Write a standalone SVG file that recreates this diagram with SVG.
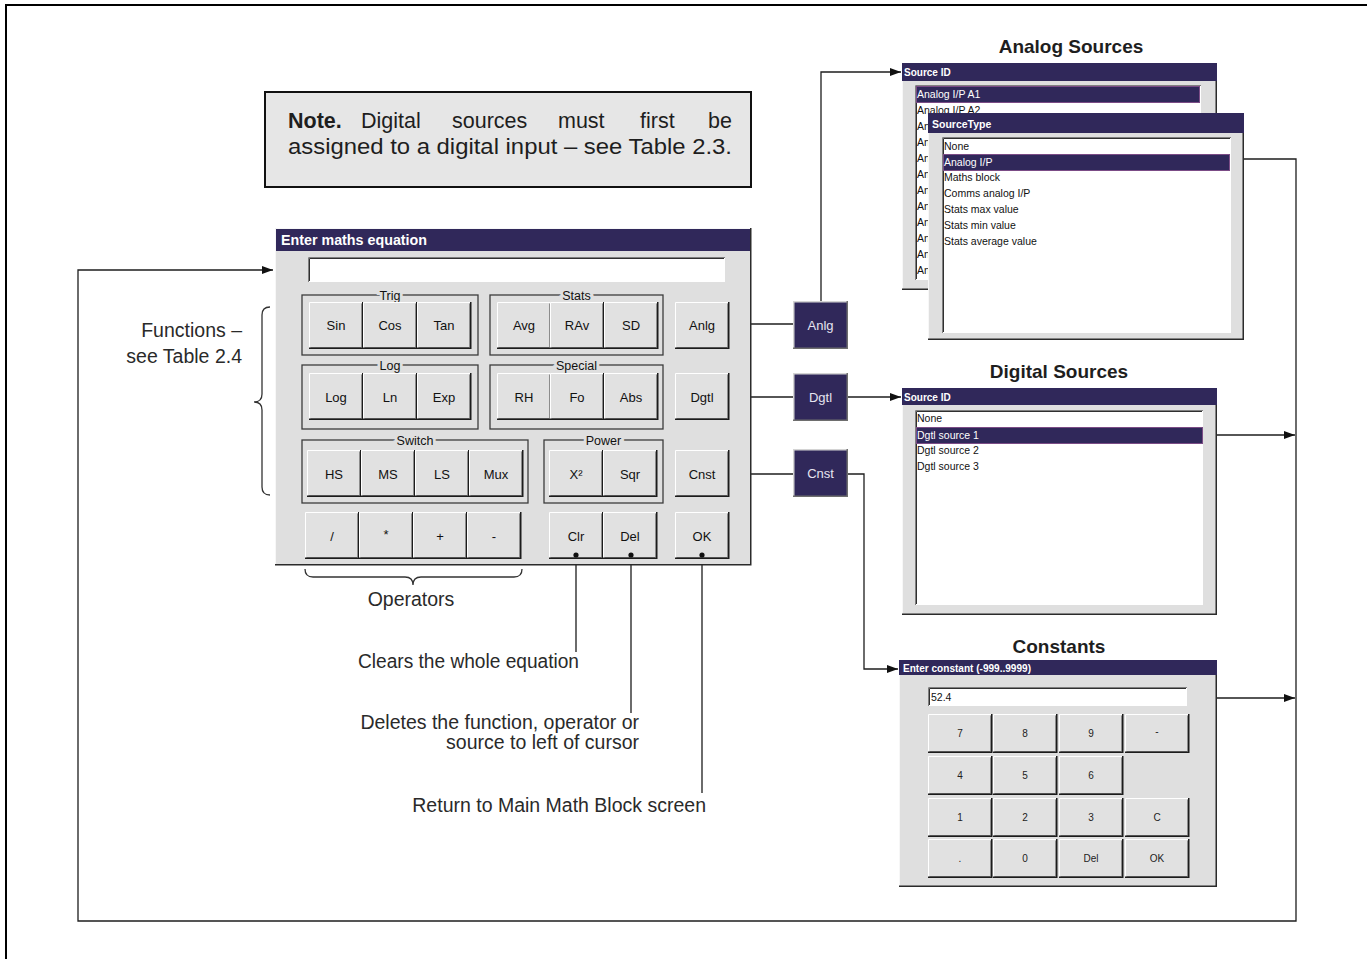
<svg xmlns="http://www.w3.org/2000/svg" xmlns:xlink="http://www.w3.org/1999/xlink" width="1367" height="959" viewBox="0 0 1367 959">
  <defs>
    <style>
      .frame{fill:none;stroke:#000;stroke-width:2}
      .dlg{fill:#dfdfdf}
      .dlgedge{fill:none;stroke:#2b2b2b;stroke-width:1.5}
      .dlghi{fill:none;stroke:#f7f7f7;stroke-width:1}
      .ttl{fill:#30285a}
      .ttxt{font-family:"Liberation Sans",Arial,sans-serif;font-weight:bold;fill:#fff}
      .btnface{fill:#e1e1e1}
      .hi{fill:none;stroke:#fff;stroke-width:1}
      .sh{fill:none;stroke:#1c1c1c;stroke-width:1.5}
      .sh2{fill:none;stroke:#8c8c8c;stroke-width:1}
      .lbl{font-family:"Liberation Sans",Arial,sans-serif;font-size:13px;fill:#111;text-anchor:middle}
      .key{font-family:"Liberation Sans",Arial,sans-serif;font-size:10px;fill:#222;text-anchor:middle}
      .grp{fill:none;stroke:#3c3c3c;stroke-width:1.3}
      .glbl{font-family:"Liberation Sans",Arial,sans-serif;font-size:12.5px;fill:#111;text-anchor:middle;stroke:#dfdfdf;stroke-width:6;paint-order:stroke}
      .field{fill:#fff}
      .sunk1{fill:none;stroke:#808080;stroke-width:1}
      .sunk2{fill:none;stroke:#303030;stroke-width:1}
      .item{font-family:"Liberation Sans",Arial,sans-serif;font-size:10.5px;fill:#111}
      .sel{fill:#30285a;stroke:#7b4c86;stroke-width:1}
      .seltxt{fill:#fff}
      .ann{font-family:"Liberation Sans",Arial,sans-serif;font-size:19.5px;fill:#2a2a2a}
      .head{font-family:"Liberation Sans",Arial,sans-serif;font-size:19px;font-weight:bold;fill:#1e1e1e;text-anchor:middle}
      .conn{fill:none;stroke:#1e1e1e;stroke-width:1.3}
      .brace{fill:none;stroke:#333;stroke-width:1.3}
      .dark{fill:#30285a}
      .darklbl{font-family:"Liberation Sans",Arial,sans-serif;font-size:13px;fill:#e6e4f0;text-anchor:middle}
      .note{font-family:"Liberation Sans",Arial,sans-serif;font-size:21.5px;fill:#1e1e1e}
    </style>
    <marker id="arr" viewBox="0 0 11 8" refX="11" refY="4" markerWidth="11" markerHeight="8" markerUnits="userSpaceOnUse" orient="auto">
      <path d="M0,0L11,4L0,8z" fill="#111"/>
    </marker>
    <!-- raised push button of the equation editor -->
    <g id="btn">
      <rect class="btnface" width="54" height="47"/>
      <path class="hi" d="M0.5,46V0.5H53"/>
      <path class="sh2" d="M1.5,45.5H52.5V1.5"/>
      <path class="sh" d="M0,46.25H53.75V0"/>
    </g>
    <!-- keypad key of the constant entry screen -->
    <g id="key">
      <rect class="btnface" width="64" height="39"/>
      <path class="hi" d="M0.5,38V0.5H63"/>
      <path class="sh2" d="M1.5,37.5H62.5V1.5"/>
      <path class="sh" d="M0,38.25H63.75V0"/>
    </g>
    <!-- source selector button (dark) -->
    <g id="dbtn">
      <rect class="dark" width="55" height="48"/>
      <path d="M0.75,47.5V0.75H54.5" stroke="#d4d4d4" stroke-width="1.5" fill="none"/>
      <path d="M0,47.25H54.25V0" stroke="#6e6e6e" stroke-width="1.5" fill="none"/>
    </g>
  </defs>

  <rect width="1367" height="959" fill="#fff"/>
  <rect class="frame" x="6" y="5" width="1400" height="1000"/>

  <!-- note box -->
  <g id="note">
    <rect x="265" y="92" width="486" height="95" fill="#e6e6e6" stroke="#111" stroke-width="2"/>
    <text class="note" y="128"><tspan x="288" font-weight="bold">Note.</tspan><tspan x="361">Digital</tspan><tspan x="452">sources</tspan><tspan x="558">must</tspan><tspan x="640">first</tspan><tspan x="708">be</tspan></text>
    <text class="note" x="288" y="154" textLength="444" lengthAdjust="spacingAndGlyphs">assigned to a digital input – see Table 2.3.</text>
  </g>

  <!-- connectors -->
  <g id="connectors">
    <path class="conn" d="M1244,159H1296V921H78V270H273" marker-end="url(#arr)"/>
    <path class="conn" d="M1217,435H1295" marker-end="url(#arr)"/>
    <path class="conn" d="M1217,698H1295" marker-end="url(#arr)"/>
    <path class="conn" d="M751,324H793"/>
    <path class="conn" d="M821,301V72H901" marker-end="url(#arr)"/>
    <path class="conn" d="M751,397H793"/>
    <path class="conn" d="M848,397H901" marker-end="url(#arr)"/>
    <path class="conn" d="M751,474H793"/>
    <path class="conn" d="M848,474H864V669H898" marker-end="url(#arr)"/>
    <path class="conn" d="M576,555V652M631,555V713M702,555V793"/>
  </g>

  <!-- equation editor screen -->
  <g id="main-dialog">
    <rect class="dlg" x="275" y="228" width="476" height="337"/>
    <path class="dlghi" d="M275.5,565V228.5H751"/>
    <path class="dlgedge" d="M275,564.75H750.75V228"/>
    <rect class="ttl" x="276" y="229" width="474" height="22"/>
    <text class="ttxt" x="281" y="245" font-size="14" textLength="146" lengthAdjust="spacingAndGlyphs">Enter maths equation</text>
    <rect class="field" x="308" y="257" width="417" height="25"/>
    <path class="sunk1" d="M308.5,282V257.5H725"/>
    <path class="sunk2" d="M309.5,281V258.5H724"/>

    <rect class="grp" x="302" y="295" width="176" height="60"/>
    <text class="glbl" x="390" y="299.5">Trig</text>
    <rect class="grp" x="490" y="295" width="173" height="60"/>
    <text class="glbl" x="576.5" y="299.5">Stats</text>
    <rect class="grp" x="302" y="365" width="176" height="64"/>
    <text class="glbl" x="390" y="369.5">Log</text>
    <rect class="grp" x="490" y="365" width="173" height="64"/>
    <text class="glbl" x="576.5" y="369.5">Special</text>
    <rect class="grp" x="302" y="440" width="226" height="63"/>
    <text class="glbl" x="415" y="444.5">Switch</text>
    <rect class="grp" x="544" y="440" width="119" height="63"/>
    <text class="glbl" x="603.5" y="444.5">Power</text>

    <use xlink:href="#btn" x="309" y="302"/><text class="lbl" x="336" y="330">Sin</text>
    <use xlink:href="#btn" x="363" y="302"/><text class="lbl" x="390" y="330">Cos</text>
    <use xlink:href="#btn" x="417" y="302"/><text class="lbl" x="444" y="330">Tan</text>
    <use xlink:href="#btn" x="497" y="302"/><text class="lbl" x="524" y="330">Avg</text>
    <use xlink:href="#btn" x="550" y="302"/><text class="lbl" x="577" y="330">RAv</text>
    <use xlink:href="#btn" x="604" y="302"/><text class="lbl" x="631" y="330">SD</text>
    <use xlink:href="#btn" x="675" y="302"/><text class="lbl" x="702" y="330">Anlg</text>

    <use xlink:href="#btn" x="309" y="373"/><text class="lbl" x="336" y="401.5">Log</text>
    <use xlink:href="#btn" x="363" y="373"/><text class="lbl" x="390" y="401.5">Ln</text>
    <use xlink:href="#btn" x="417" y="373"/><text class="lbl" x="444" y="401.5">Exp</text>
    <use xlink:href="#btn" x="497" y="373"/><text class="lbl" x="524" y="401.5">RH</text>
    <use xlink:href="#btn" x="550" y="373"/><text class="lbl" x="577" y="401.5">Fo</text>
    <use xlink:href="#btn" x="604" y="373"/><text class="lbl" x="631" y="401.5">Abs</text>
    <use xlink:href="#btn" x="675" y="373"/><text class="lbl" x="702" y="401.5">Dgtl</text>

    <use xlink:href="#btn" x="307" y="450"/><text class="lbl" x="334" y="478.5">HS</text>
    <use xlink:href="#btn" x="361" y="450"/><text class="lbl" x="388" y="478.5">MS</text>
    <use xlink:href="#btn" x="415" y="450"/><text class="lbl" x="442" y="478.5">LS</text>
    <use xlink:href="#btn" x="469" y="450"/><text class="lbl" x="496" y="478.5">Mux</text>
    <use xlink:href="#btn" x="549" y="450"/><text class="lbl" x="576" y="478.5">X²</text>
    <use xlink:href="#btn" x="603" y="450"/><text class="lbl" x="630" y="478.5">Sqr</text>
    <use xlink:href="#btn" x="675" y="450"/><text class="lbl" x="702" y="478.5">Cnst</text>

    <use xlink:href="#btn" x="305" y="512"/><text class="lbl" x="332" y="541">/</text>
    <use xlink:href="#btn" x="359" y="512"/><text class="lbl" x="386" y="539" font-size="9">*</text>
    <use xlink:href="#btn" x="413" y="512"/><text class="lbl" x="440" y="541">+</text>
    <use xlink:href="#btn" x="467" y="512"/><text class="lbl" x="494" y="541">-</text>
    <use xlink:href="#btn" x="549" y="512"/><text class="lbl" x="576" y="541">Clr</text>
    <use xlink:href="#btn" x="603" y="512"/><text class="lbl" x="630" y="541">Del</text>
    <use xlink:href="#btn" x="675" y="512"/><text class="lbl" x="702" y="541">OK</text>

    <circle cx="576" cy="555" r="2.6" fill="#111"/>
    <circle cx="631" cy="555" r="2.6" fill="#111"/>
    <circle cx="702" cy="555" r="2.6" fill="#111"/>
  </g>

  <!-- source selector buttons -->
  <g id="btn-anlg"><use xlink:href="#dbtn" x="793" y="301"/><text class="darklbl" x="820.5" y="329.5">Anlg</text></g>
  <g id="btn-dgtl"><use xlink:href="#dbtn" x="793" y="373"/><text class="darklbl" x="820.5" y="401.5">Dgtl</text></g>
  <g id="btn-cnst"><use xlink:href="#dbtn" x="793" y="449"/><text class="darklbl" x="820.5" y="477.5">Cnst</text></g>

  <!-- annotations -->
  <g id="functions-label">
    <path class="brace" d="M270,307Q262,307 262,315V394Q262,402 254,402Q262,402 262,410V487Q262,495 270,495"/>
    <text class="ann" x="242" y="337" text-anchor="end">Functions –</text>
    <text class="ann" x="242" y="363" text-anchor="end">see Table 2.4</text>
  </g>
  <g id="operators-label">
    <path class="brace" d="M305,569Q305,577 313,577H405Q413,577 413,585Q413,577 421,577H514Q522,577 522,569"/>
    <text class="ann" x="411" y="606" text-anchor="middle">Operators</text>
  </g>
  <g id="callouts">
    <text class="ann" x="579" y="668" text-anchor="end" textLength="221" lengthAdjust="spacingAndGlyphs">Clears the whole equation</text>
    <text class="ann" x="639" y="729" text-anchor="end">Deletes the function, operator or</text>
    <text class="ann" x="639" y="749" text-anchor="end">source to left of cursor</text>
    <text class="ann" x="706" y="812" text-anchor="end">Return to Main Math Block screen</text>
  </g>

  <!-- analog sources -->
  <g id="analog-sources">
    <text class="head" x="1071" y="53">Analog Sources</text>
    <rect class="dlg" x="902" y="63" width="315" height="227"/>
    <path class="dlghi" d="M902.5,290V63.5H1217"/>
    <path class="dlgedge" d="M902,289.25H1216.25V63"/>
    <rect class="ttl" x="902" y="63" width="315" height="18"/>
    <text class="ttxt" x="904" y="76" font-size="10">Source ID</text>
    <rect class="field" x="915" y="85" width="286" height="195"/>
    <path class="sunk1" d="M915.5,280V85.5H1201"/>
    <path class="sunk2" d="M916.5,279V86.5H1200"/>
    <rect class="sel" x="916.5" y="86.5" width="283" height="16"/>
    <text class="item seltxt" x="917" y="98">Analog I/P A1</text>
    <text class="item" x="917" y="114">Analog I/P A2</text>
    <text class="item" x="917" y="130">An</text>
    <text class="item" x="917" y="146">An</text>
    <text class="item" x="917" y="162">An</text>
    <text class="item" x="917" y="178">An</text>
    <text class="item" x="917" y="194">An</text>
    <text class="item" x="917" y="210">An</text>
    <text class="item" x="917" y="226">An</text>
    <text class="item" x="917" y="242">An</text>
    <text class="item" x="917" y="258">An</text>
    <text class="item" x="917" y="274">An</text>

    <rect class="dlg" x="928" y="113" width="316" height="227"/>
    <path class="dlghi" d="M928.5,340V113.5H1244"/>
    <path class="dlgedge" d="M928,339.25H1243.25V113"/>
    <rect class="ttl" x="928" y="113" width="316" height="20"/>
    <text class="ttxt" x="932" y="127.5" font-size="10.5">SourceType</text>
    <rect class="field" x="942" y="137" width="289" height="196"/>
    <path class="sunk1" d="M942.5,333V137.5H1231"/>
    <path class="sunk2" d="M943.5,332V138.5H1230"/>
    <rect class="sel" x="943.5" y="154.5" width="286" height="16"/>
    <text class="item" x="944" y="150">None</text>
    <text class="item seltxt" x="944" y="166">Analog I/P</text>
    <text class="item" x="944" y="181">Maths block</text>
    <text class="item" x="944" y="197">Comms analog I/P</text>
    <text class="item" x="944" y="213">Stats max value</text>
    <text class="item" x="944" y="229">Stats min value</text>
    <text class="item" x="944" y="245">Stats average value</text>
  </g>

  <!-- digital sources -->
  <g id="digital-sources">
    <text class="head" x="1059" y="378">Digital Sources</text>
    <rect class="dlg" x="902" y="388" width="315" height="227"/>
    <path class="dlghi" d="M902.5,615V388.5H1217"/>
    <path class="dlgedge" d="M902,614.25H1216.25V388"/>
    <rect class="ttl" x="902" y="388" width="315" height="17"/>
    <text class="ttxt" x="904" y="401" font-size="10">Source ID</text>
    <rect class="field" x="915" y="410" width="288" height="195"/>
    <path class="sunk1" d="M915.5,605V410.5H1203"/>
    <path class="sunk2" d="M916.5,604V411.5H1202"/>
    <rect class="sel" x="916.5" y="427.5" width="286" height="16"/>
    <text class="item" x="917" y="422">None</text>
    <text class="item seltxt" x="917" y="439">Dgtl source 1</text>
    <text class="item" x="917" y="454">Dgtl source 2</text>
    <text class="item" x="917" y="470">Dgtl source 3</text>
  </g>

  <!-- constants -->
  <g id="constants">
    <text class="head" x="1059" y="653">Constants</text>
    <rect class="dlg" x="899" y="660" width="318" height="227"/>
    <path class="dlghi" d="M899.5,887V660.5H1217"/>
    <path class="dlgedge" d="M899,886.25H1216.25V660"/>
    <rect class="ttl" x="899" y="660" width="318" height="15"/>
    <text class="ttxt" x="903" y="671.5" font-size="10" textLength="128" lengthAdjust="spacingAndGlyphs">Enter constant (-999..9999)</text>
    <rect class="field" x="928" y="687" width="259" height="19"/>
    <path class="sunk1" d="M928.5,706V687.5H1187"/>
    <path class="sunk2" d="M929.5,705V688.5H1186"/>
    <text class="item" x="931" y="700.5" font-size="9.5">52.4</text>

    <use xlink:href="#key" x="928" y="714"/><text class="key" x="960" y="737">7</text>
    <use xlink:href="#key" x="993" y="714"/><text class="key" x="1025" y="737">8</text>
    <use xlink:href="#key" x="1059" y="714"/><text class="key" x="1091" y="737">9</text>
    <use xlink:href="#key" x="1125" y="714"/><text class="key" x="1157" y="735">-</text>
    <use xlink:href="#key" x="928" y="756"/><text class="key" x="960" y="779">4</text>
    <use xlink:href="#key" x="993" y="756"/><text class="key" x="1025" y="779">5</text>
    <use xlink:href="#key" x="1059" y="756"/><text class="key" x="1091" y="779">6</text>
    <use xlink:href="#key" x="928" y="798"/><text class="key" x="960" y="821">1</text>
    <use xlink:href="#key" x="993" y="798"/><text class="key" x="1025" y="821">2</text>
    <use xlink:href="#key" x="1059" y="798"/><text class="key" x="1091" y="821">3</text>
    <use xlink:href="#key" x="1125" y="798"/><text class="key" x="1157" y="821">C</text>
    <use xlink:href="#key" x="928" y="839"/><text class="key" x="960" y="862">.</text>
    <use xlink:href="#key" x="993" y="839"/><text class="key" x="1025" y="862">0</text>
    <use xlink:href="#key" x="1059" y="839"/><text class="key" x="1091" y="862">Del</text>
    <use xlink:href="#key" x="1125" y="839"/><text class="key" x="1157" y="862">OK</text>
  </g>
</svg>
